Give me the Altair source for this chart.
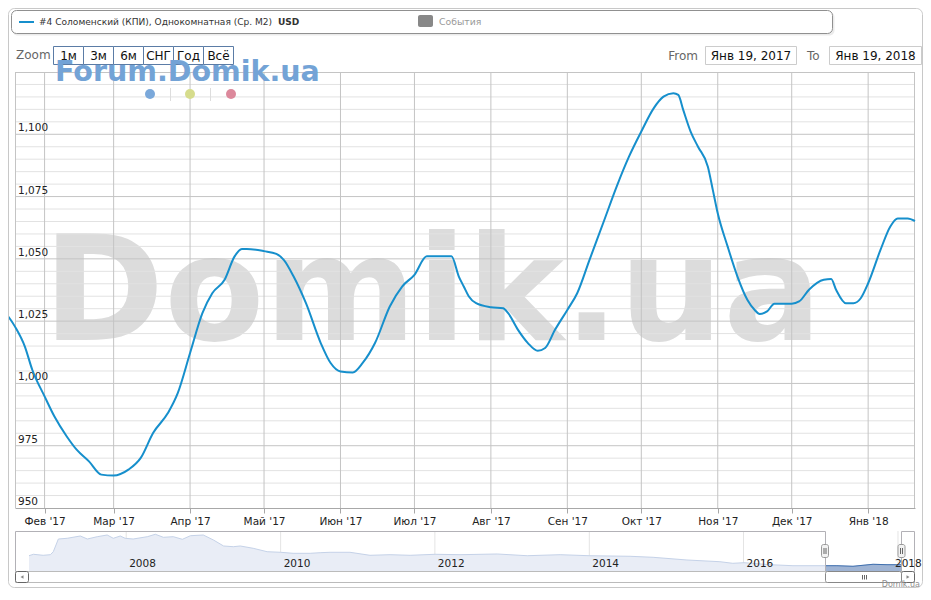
import altair as alt
import pandas as pd

# ---------------- data ----------------
dates = [
    "2017-01-14", "2017-01-20", "2017-01-24", "2017-01-27", "2017-02-01", "2017-02-05",
    "2017-02-10", "2017-02-14", "2017-02-19", "2017-02-24", "2017-03-01", "2017-03-07",
    "2017-03-12", "2017-03-17", "2017-03-23", "2017-03-27", "2017-04-01", "2017-04-06",
    "2017-04-10", "2017-04-15", "2017-04-19", "2017-04-22", "2017-04-24", "2017-05-01",
    "2017-05-06", "2017-05-09", "2017-05-13", "2017-05-18", "2017-05-24", "2017-05-28",
    "2017-06-01", "2017-06-06", "2017-06-10", "2017-06-15", "2017-06-21", "2017-06-26",
    "2017-07-01", "2017-07-06", "2017-07-16", "2017-07-19", "2017-07-21", "2017-07-23",
    "2017-07-26", "2017-08-01", "2017-08-06", "2017-08-08", "2017-08-12", "2017-08-16",
    "2017-08-20", "2017-08-23", "2017-08-27", "2017-09-01", "2017-09-05", "2017-09-10",
    "2017-09-16", "2017-09-21", "2017-09-26", "2017-10-01", "2017-10-06", "2017-10-10",
    "2017-10-14", "2017-10-16", "2017-10-18", "2017-10-21", "2017-10-24", "2017-10-28",
    "2017-10-30", "2017-11-01", "2017-11-05", "2017-11-09", "2017-11-13", "2017-11-16",
    "2017-11-18", "2017-11-21", "2017-11-24", "2017-12-01", "2017-12-04", "2017-12-08",
    "2017-12-14", "2017-12-17", "2017-12-19", "2017-12-23", "2017-12-26", "2017-12-29",
    "2018-01-01", "2018-01-06", "2018-01-10", "2018-01-13", "2018-01-17", "2018-01-20",
]
values = [
    1030.9, 1022.8, 1014.8, 1005.5, 994.8, 986.7,
    978.7, 973.4, 968.7, 963.4, 963.0, 965.4,
    970.1, 980.1, 988.1, 996.1, 1012.2, 1028.2,
    1036.2, 1041.6, 1050.9, 1054.0, 1054.0, 1053.1,
    1052.0, 1049.6, 1042.9, 1032.2, 1016.2, 1008.2,
    1004.8, 1004.4, 1008.2, 1016.2, 1030.9, 1038.9,
    1043.6, 1051.0, 1051.0, 1042.9, 1038.9, 1035.0,
    1032.2, 1030.6, 1030.2, 1028.2, 1021.5, 1016.2,
    1013.1, 1014.2, 1021.5, 1029.5, 1036.2, 1049.6,
    1065.6, 1079.0, 1091.0, 1101.1, 1110.4, 1115.1,
    1116.5, 1115.8, 1109.8, 1101.1, 1095.0, 1087.0,
    1077.7, 1068.3, 1055.0, 1042.9, 1033.6, 1029.5,
    1027.9, 1028.9, 1032.0, 1032.0, 1032.9, 1037.6,
    1041.6, 1041.9, 1037.6, 1032.2, 1032.2, 1034.2,
    1040.2, 1053.6, 1063.0, 1066.2, 1066.2, 1065.2,
]

nav_dates = [
    "2006-09-28", "2006-10-19", "2006-12-04", "2007-01-07", "2007-01-21", "2007-02-14",
    "2007-03-28", "2007-05-29", "2007-07-01", "2007-08-17", "2007-10-03", "2007-11-01",
    "2007-12-04", "2007-12-27", "2008-02-03", "2008-04-10", "2008-05-18", "2008-06-25",
    "2008-08-11", "2008-09-23", "2008-10-31", "2008-12-31", "2009-02-17", "2009-04-06",
    "2009-05-22", "2009-06-24", "2009-08-24", "2009-10-29", "2010-01-01", "2010-03-01",
    "2010-05-21", "2010-07-07", "2010-08-23", "2010-11-25", "2011-02-28", "2011-06-03",
    "2011-09-06", "2012-01-02", "2012-04-29", "2012-10-22", "2013-03-13", "2013-08-16",
    "2013-12-31", "2014-07-13", "2014-10-30", "2015-04-08", "2015-09-11", "2015-11-11",
    "2016-01-03", "2016-05-05", "2016-08-22", "2017-01-21", "2017-03-18", "2017-06-02",
    "2017-09-05", "2017-11-10", "2018-01-20",
]
nav_values = [
    1706, 1794, 1731, 1769, 1956, 2750,
    2794, 2938, 2750, 2894, 3000, 2794,
    2938, 2794, 2750, 2894, 3044, 2856,
    2894, 2731, 2956, 3000, 2688, 2313,
    2269, 2313, 2169, 1956, 1919, 1856,
    1856, 1894, 1919, 1919, 1731, 1769,
    1731, 1794, 1769, 1813, 1706, 1769,
    1706, 1669, 1606, 1438, 1331, 1231,
    1269, 1144, 1081, 1081, 1081, 1044,
    1169, 1144, 1144,
]

month_ticks = [
    "2017-02-01", "2017-03-01", "2017-04-01", "2017-05-01", "2017-06-01", "2017-07-01",
    "2017-08-01", "2017-09-01", "2017-10-01", "2017-11-01", "2017-12-01", "2018-01-01",
]
month_names = ["Янв", "Фев", "Мар", "Апр", "Май", "Июн", "Июл", "Авг", "Сен", "Окт", "Ноя", "Дек"]
y_labels = [950, 975, 1000, 1025, 1050, 1075, 1100]
y_major = [975, 1000, 1025, 1050, 1075, 1100]
y_minor = [v for v in range(955, 1125, 5) if v % 25]
nav_years = ["2008-01-01", "2010-01-01", "2012-01-01", "2014-01-01", "2016-01-01", "2018-01-01"]
nav_year_labels = ["2008", "2010", "2012", "2014", "2016", "2018"]
zoom_buttons = ["1м", "3м", "6м", "СНГ", "Год", "Всё"]

legend_label = "#4 Соломенский (КПИ), Однокомнатная (Ср. М2)"
FONT = "DejaVu Sans"
LINE_COLOR = "#168fcc"

# ---------------- tables ----------------
df = pd.DataFrame({"date": dates, "value": values})
nav = pd.DataFrame({"date": nav_dates, "value": nav_values})
nav_sel = nav[nav["date"] >= "2017-01-20"]
months = pd.DataFrame({"d": month_ticks})
ylab = pd.DataFrame({"v": y_labels})
ymaj = pd.DataFrame({"v": y_major})
ymin = pd.DataFrame({"v": y_minor})
years = pd.DataFrame({"d": nav_years, "t": nav_year_labels})
years_in = years.iloc[:-1]
years_last = years.iloc[-1:]
dummy = pd.DataFrame({"a": [0]})

W, H = 900, 436

xs = alt.Scale(type="utc",
               domain=[alt.DateTime(year=2017, month=1, date=20, utc=True),
                       alt.DateTime(year=2018, month=1, date=20, utc=True)])
ys = alt.Scale(domain=[950, 1125], zero=False, nice=False)

names_js = "[" + ",".join("'%s'" % m for m in month_names) + "]"
xaxis = alt.Axis(
    values=[alt.DateTime(year=int(d[:4]), month=int(d[5:7]), date=1, utc=True) for d in month_ticks],
    labelExpr=names_js + "[utcmonth(datum.value)] + \" '\" + utcFormat(datum.value, '%y')",
    grid=False, domainColor="#a8a8a8", tickColor="#a8a8a8", tickSize=5,
    labelFont=FONT, labelFontSize=10.5, labelColor="#222", labelPadding=3,
    title=None, labelFlush=False, labelOverlap=False,
)


def rect(x, x2, y, y2, **kw):
    return alt.Chart(dummy).mark_rect(**kw).encode(
        x=alt.value(x), x2=alt.value(x2), y=alt.value(y), y2=alt.value(y2))


def text(x, y, t, **kw):
    kw.setdefault("font", FONT)
    return alt.Chart(dummy).mark_text(text=t, **kw).encode(x=alt.value(x), y=alt.value(y))


def hline(x, x2, y, color, width=1):
    return alt.Chart(dummy).mark_rule(color=color, strokeWidth=width).encode(
        x=alt.value(x), x2=alt.value(x2), y=alt.value(y))


def vline(x, y, y2, color, width=1):
    return alt.Chart(dummy).mark_rule(color=color, strokeWidth=width).encode(
        x=alt.value(x), y=alt.value(y), y2=alt.value(y2))


# ---------------- main plot ----------------
watermark = text(28, 268, "Domik.ua", fontSize=146, fontWeight="bold", color="#dcdcdc",
                 align="left", baseline="alphabetic")

minor_grid = alt.Chart(ymin).mark_rule(color="#e2e2e2", strokeWidth=1).encode(
    y=alt.Y("v:Q", scale=ys, axis=None), x=alt.value(0), x2=alt.value(W))
major_grid = alt.Chart(ymaj).mark_rule(color="#c4c4c4", strokeWidth=1).encode(
    y=alt.Y("v:Q", scale=ys, axis=None), x=alt.value(0), x2=alt.value(W))
vgrid = alt.Chart(months).mark_rule(color="#c4c4c4", strokeWidth=1).encode(
    x=alt.X("d:T", scale=xs, axis=xaxis), y=alt.value(0), y2=alt.value(H))

frame_top = hline(0, W, 0.5, "#c4c4c4")
frame_left = vline(0.5, 0, H, "#c4c4c4")
frame_right = vline(W - 0.5, 0, H, "#c4c4c4")

ylabels = alt.Chart(ylab).mark_text(align="left", baseline="bottom", dx=3, dy=-1,
                                    font=FONT, fontSize=10.5, color="#222").encode(
    y=alt.Y("v:Q", scale=ys, axis=None), x=alt.value(0),
    text=alt.Text("v:Q", format=","))

line = alt.Chart(df).mark_line(color=LINE_COLOR, strokeWidth=2, interpolate="monotone").encode(
    x=alt.X("date:T", scale=xs, axis=xaxis),
    y=alt.Y("value:Q", scale=ys, axis=None))

# ---------------- decorations ----------------
deco = []
# outer frame
deco.append(rect(-6.5, 907.5, -63.5, 515.5, fill=None, stroke="#c8c8c8", strokeWidth=1, cornerRadius=6))
# legend box
deco.append(rect(-2.5, 819.5, -60, -36.5, fill="#000000", opacity=0.08, cornerRadius=5))
deco.append(rect(-3.5, 817.5, -61.5, -38.5, fill="white", stroke="#909090", strokeWidth=1, cornerRadius=5))
deco.append(hline(4, 19, -50, LINE_COLOR, 2))
deco.append(text(24, -50, legend_label, fontSize=9.05, color="#333", align="left", baseline="middle"))
deco.append(text(263, -50, "USD", fontSize=9.05, fontWeight="bold", color="#333", align="left", baseline="middle"))
deco.append(rect(403, 418, -57, -45, fill="#888888", cornerRadius=2))
deco.append(text(424, -50, "События", fontSize=9.3, color="#999", align="left", baseline="middle"))
# zoom buttons
deco.append(text(1, -17, "Zoom", fontSize=12, color="#666", align="left", baseline="middle"))
edges = [38, 68, 98, 128, 158, 188, 218]
for i, lab in enumerate(zoom_buttons):
    deco.append(rect(edges[i] + 0.5, edges[i + 1] + 0.5, -25.5, -7.5, fill="white",
                     stroke="#5b7ca6", strokeWidth=1))
    deco.append(text((edges[i] + edges[i + 1]) / 2 + 0.5, -16.5, lab, fontSize=12, color="#111",
                     align="center", baseline="middle"))
# from / to
deco.append(text(683, -16.5, "From", fontSize=12, color="#666", align="right", baseline="middle"))
deco.append(rect(690.5, 781.5, -25.5, -7.5, fill="white", stroke="#cccccc", strokeWidth=1))
deco.append(text(736, -16.5, "Янв 19, 2017", fontSize=12, color="#111", align="center", baseline="middle"))
deco.append(text(792, -16.5, "To", fontSize=12, color="#666", align="left", baseline="middle"))
deco.append(rect(814.5, 906.5, -25.5, -7.5, fill="white", stroke="#cccccc", strokeWidth=1))
deco.append(text(860.5, -16.5, "Янв 19, 2018", fontSize=12, color="#111", align="center", baseline="middle"))
# site logo
deco.append(text(40, 8.5, "Forum.Domik.ua", fontSize=28.5, fontWeight="bold", color="#73a3d6",
                 align="left", baseline="alphabetic"))
for cx, col in [(135, "#7aa8da"), (175, "#d6dc8c"), (216, "#dc889b")]:
    deco.append(alt.Chart(dummy).mark_circle(size=100, color=col, opacity=1).encode(
        x=alt.value(cx), y=alt.value(22)))
deco.append(vline(155.5, 16, 29, "#dddddd"))
deco.append(vline(195.5, 16, 29, "#dddddd"))

# navigator outline + scrollbar
NT, NB = 459.5, 499.5
SB = 510.5
nav_deco = []
for seg in [(0.5, NT, NB), (810.5, NT, NB), (886.5, NT, NB), (899.5, NT, NB)]:
    nav_deco.append(vline(seg[0], seg[1], seg[2], "#b2b1b6"))
nav_deco.append(hline(0.5, 810.5, NT, "#b2b1b6"))
nav_deco.append(hline(886.5, 899.5, NT, "#b2b1b6"))
nav_deco.append(rect(0.5, 899.5, NB, SB, fill="white", stroke="#bbbbbb", strokeWidth=1))
nav_deco.append(rect(0.5, 13.5, NB, SB, fill="white", stroke="#666666", strokeWidth=1, cornerRadius=2))
nav_deco.append(rect(886.5, 899.5, NB, SB, fill="white", stroke="#666666", strokeWidth=1, cornerRadius=2))
nav_deco.append(rect(810.5, 886.5, NB, SB, fill="white", stroke="#888888", strokeWidth=1, cornerRadius=2))
for lx in [847.5, 849.5, 851.5]:
    nav_deco.append(vline(lx, 503, 507.5, "#666666"))
nav_deco.append(alt.Chart(dummy).mark_point(shape="triangle-left", size=12, filled=True, color="#555").encode(
    x=alt.value(7), y=alt.value((NB + SB) / 2)))
nav_deco.append(alt.Chart(dummy).mark_point(shape="triangle-right", size=12, filled=True, color="#555").encode(
    x=alt.value(893), y=alt.value((NB + SB) / 2)))
for hx in [807, 883.5]:
    nav_deco.append(rect(hx - 0.5, hx + 6.5, 472.5, 485.5, fill="#f2f2f2", stroke="#999999",
                         strokeWidth=1, cornerRadius=2))
    nav_deco.append(vline(hx + 2, 476, 482, "#666666"))
    nav_deco.append(vline(hx + 4, 476, 482, "#666666"))
nav_deco.append(text(905, 515, "Domik.ua", fontSize=8, color="#909090", align="right", baseline="alphabetic"))

main = alt.layer(watermark, minor_grid, major_grid, vgrid, frame_top, frame_left, frame_right,
                 ylabels, line, *deco)

# ---------------- navigator ----------------
nxs = alt.Scale(type="utc",
                domain=[alt.DateTime(year=2006, month=9, date=28, utc=True),
                        alt.DateTime(year=2018, month=1, date=20, utc=True)],
                range=[14, 887])
nys = alt.Scale(domain=[750, 3250], zero=False, nice=False, range=[499, 459])

nav_grid = alt.Chart(years).mark_rule(color="#e4e4e4").encode(
    x=alt.X("d:T", scale=nxs, axis=None), y=alt.value(459), y2=alt.value(499))
nav_area = alt.Chart(nav).mark_area(color="#e9edf6", opacity=1).encode(
    x=alt.X("date:T", scale=nxs, axis=None), y=alt.Y("value:Q", scale=nys, axis=None),
    y2=alt.value(499))
nav_line = alt.Chart(nav).mark_line(color="#c5d2e8", strokeWidth=1).encode(
    x=alt.X("date:T", scale=nxs, axis=None), y=alt.Y("value:Q", scale=nys, axis=None))
sel_area = alt.Chart(nav_sel).mark_area(color="#9fb4d4", opacity=1).encode(
    x=alt.X("date:T", scale=nxs, axis=None), y=alt.Y("value:Q", scale=nys, axis=None),
    y2=alt.value(499))
sel_line = alt.Chart(nav_sel).mark_line(color="#3f6fae", strokeWidth=1).encode(
    x=alt.X("date:T", scale=nxs, axis=None), y=alt.Y("value:Q", scale=nys, axis=None))
nav_labels = alt.Chart(years_in).mark_text(align="left", baseline="alphabetic", dx=3, font=FONT,
                                           fontSize=10.5, color="#222").encode(
    x=alt.X("d:T", scale=nxs, axis=None), y=alt.value(495), text="t:N")
nav_label_last = alt.Chart(years_last).mark_text(align="left", baseline="alphabetic", dx=-3, font=FONT,
                                                 fontSize=10.5, color="#222").encode(
    x=alt.X("d:T", scale=nxs, axis=None), y=alt.value(495), text="t:N")

navigator = alt.layer(nav_grid, nav_area, nav_line, sel_area, sel_line, nav_labels, *nav_deco,
                      nav_label_last)

chart = alt.layer(main, navigator).resolve_scale(x="independent", y="independent").properties(
    width=W, height=H,
    padding={"left": 7, "top": 64, "right": 8, "bottom": 80},
    autosize=alt.AutoSizeParams(type="none"),
    background="white",
).configure_view(stroke=None)

chart.save("out.html", embed_options={"renderer": "svg", "actions": False})
